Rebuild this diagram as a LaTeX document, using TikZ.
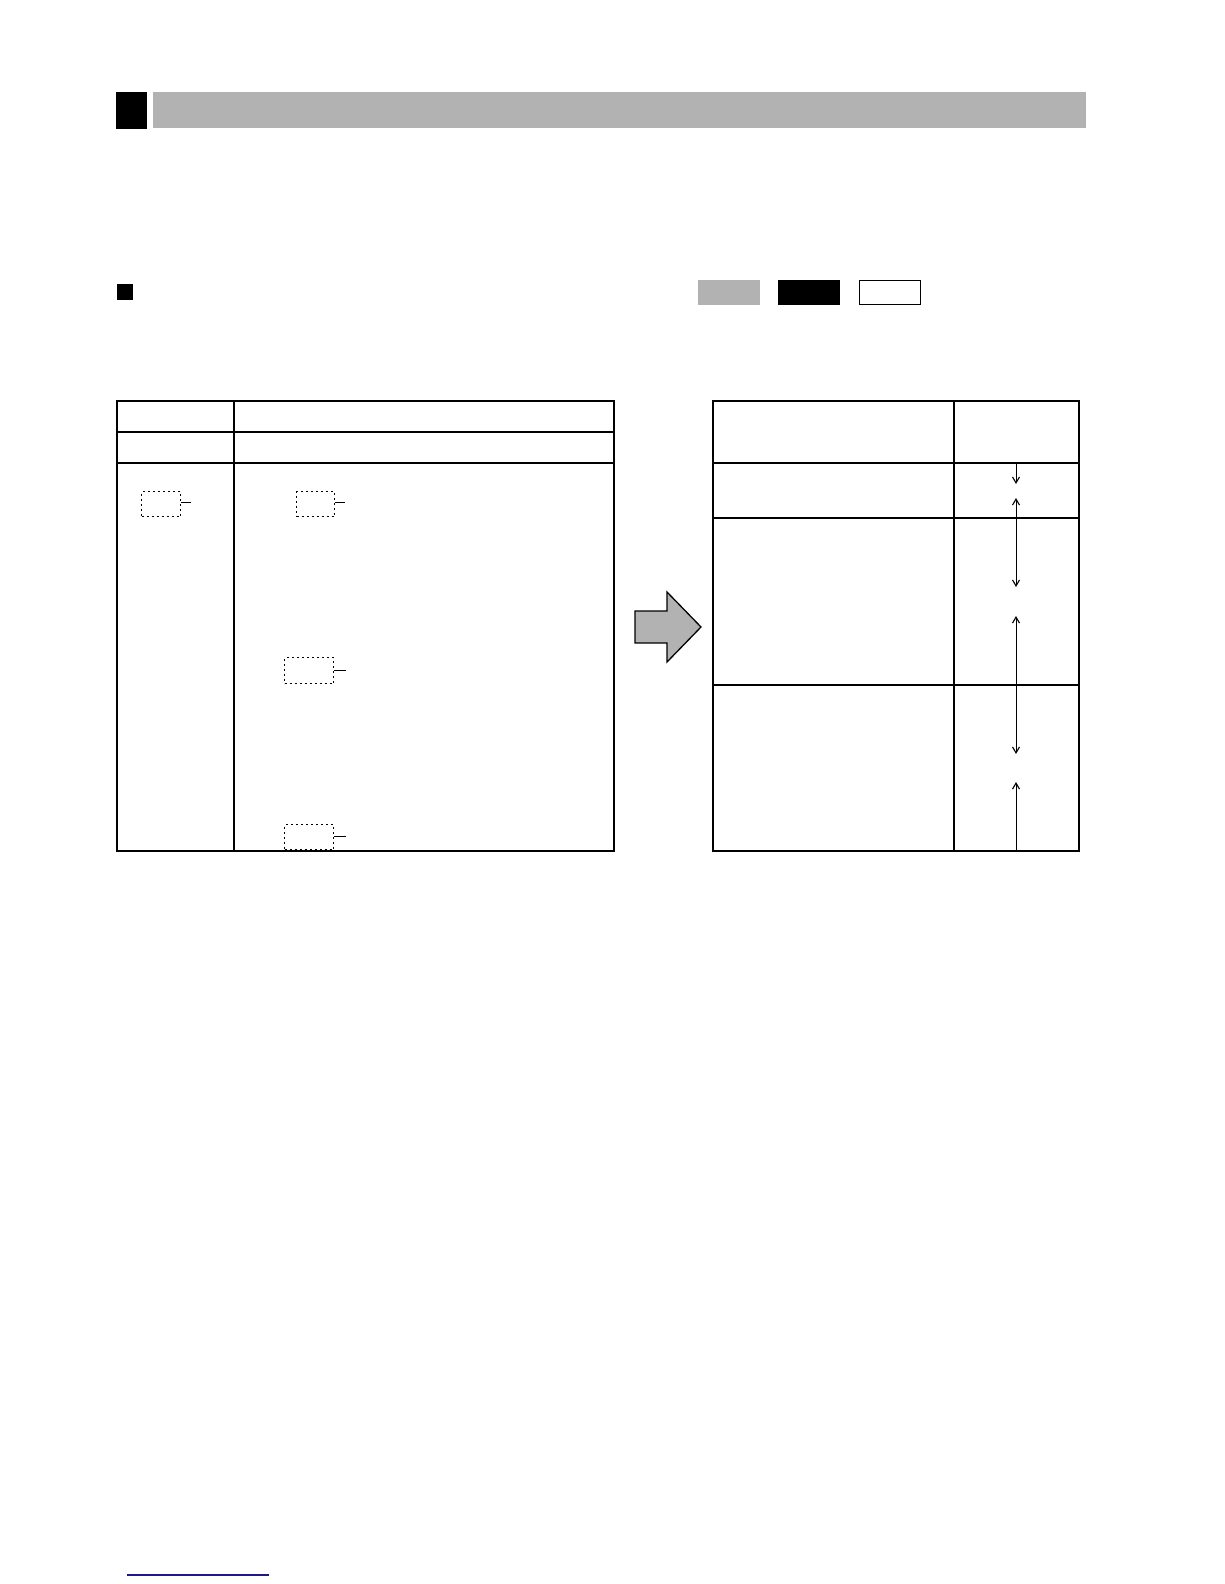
\documentclass[tikz,border=0pt]{standalone}
\usetikzlibrary{arrows.meta}
\definecolor{bargray}{RGB}{178,178,178}
\definecolor{navyline}{RGB}{25,25,135}
\begin{document}
\begin{tikzpicture}[x=1pt,y=-1pt,
  grid/.style={draw=black,line width=1.2pt},
  thick rule/.style={draw=black,line width=2.2pt},
  dotbox/.style={draw=black,dash pattern=on 2pt off 3pt,line width=1.1pt},
  tick/.style={draw=black,line width=1pt},
  dim/.style={draw=black,line width=1pt},
  tip/.style={-{Straight Barb[length=6pt,width=7pt,line width=1.1pt]}}]
\useasboundingbox (0,0) rectangle (1224,1584);
% header
\fill[black] (116,92) rectangle (147,129);
\fill[bargray] (153,92) rectangle (1086,128);
% sub heading
\fill[black] (117,284) rectangle (133,300);
\fill[bargray] (698,280) rectangle (760,305);
\fill[black] (778,280) rectangle (840,305);
\draw[line width=1.3pt] (859.5,280.5) rectangle (920.5,304.5);
% left table
\coordinate (LTL) at (117,401);
\coordinate (LBR) at (614,851);
\draw[grid] (LTL) rectangle (LBR);
\draw[grid] (234,401) -- (234,851);
\draw[grid] (117,432) -- (614,432);
\draw[thick rule] (117,463) -- (614,463);
% dotted boxes with ticks
\node[dotbox,minimum width=39pt,minimum height=25pt,inner sep=0pt,anchor=north west] (d1) at (141,491) {};
\coordinate (t1) at (191,502);
\draw[tick] (d1.east |- t1) -- (t1);
\node[dotbox,minimum width=38pt,minimum height=25pt,inner sep=0pt,anchor=north west] (d2) at (296,491) {};
\coordinate (t2) at (345,502);
\draw[tick] (d2.east |- t2) -- (t2);
\node[dotbox,minimum width=49pt,minimum height=26pt,inner sep=0pt,anchor=north west] (d3) at (284,657) {};
\coordinate (t3) at (346,670);
\draw[tick] (d3.east |- t3) -- (t3);
\node[dotbox,minimum width=49pt,minimum height=25pt,inner sep=0pt,anchor=north west] (d4) at (284,824) {};
\coordinate (t4) at (346,836);
\draw[tick] (d4.east |- t4) -- (t4);
% big arrow
\draw[fill=bargray,line width=1.3pt,line join=miter]
  (635,611) -- (667,611) -- (667,592) -- (701,627) -- (667,662) -- (667,643) -- (635,643) -- cycle;
% right table
\draw[grid] (713,401) rectangle (1079,851);
\draw[grid] (954,401) -- (954,851);
\draw[thick rule] (713,463) -- (1079,463);
\draw[grid] (713,518) -- (1079,518);
\draw[grid] (713,685) -- (1079,685);
% dimension arrows
\coordinate (a0) at (1016,463);
\coordinate (a1) at (1016,484);
\coordinate (a2) at (1016,498);
\coordinate (a3) at (1016,587);
\coordinate (a4) at (1016,616);
\coordinate (a5) at (1016,754);
\coordinate (a6) at (1016,782);
\coordinate (a7) at (1016,851);
\draw[dim,tip] (a0) -- (a1);
\draw[dim,{Straight Barb[length=6pt,width=7pt,line width=1.1pt]}-{Straight Barb[length=6pt,width=7pt,line width=1.1pt]}] (a2) -- (a3);
\draw[dim,{Straight Barb[length=6pt,width=7pt,line width=1.1pt]}-{Straight Barb[length=6pt,width=7pt,line width=1.1pt]}] (a4) -- (a5);
\draw[dim,{Straight Barb[length=6pt,width=7pt,line width=1.1pt]}-] (a6) -- (a7);
% bottom rule
\draw[navyline,line width=1.3pt] (127,1575) -- (269,1575);
\end{tikzpicture}
\end{document}
